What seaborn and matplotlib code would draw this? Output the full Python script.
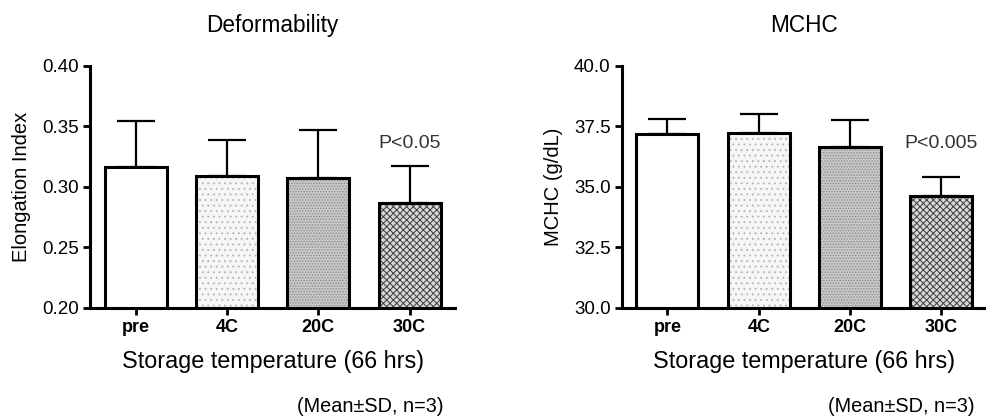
import matplotlib
matplotlib.use("Agg")
import matplotlib.pyplot as plt
import seaborn as sns
import pandas as pd
import numpy as np

# data
groups = ["pre", "4C", "20C", "30C"]
ei_mean = [0.3165, 0.309, 0.307, 0.2863]
ei_sd = [0.038, 0.030, 0.040, 0.031]
mchc_mean = [37.17, 37.23, 36.64, 34.62]
mchc_sd = [0.63, 0.79, 1.12, 0.77]

# fill styles per bar (face colour, hatch, hatch colour)
faces = ["white", "#f6f6f6", "#c9c9c9", "#d8d8d8"]
hatches = ["", "...", "......", "xxxxx"]
hatch_cols = ["white", "#b8b8b8", "#8c8c8c", "#3c3c3c"]

sns.set_style("ticks")
plt.rcParams["font.family"] = ["Liberation Sans", "DejaVu Sans"]
plt.rcParams["hatch.linewidth"] = 0.7
plt.rcParams["text.color"] = "black"
plt.rcParams["axes.labelcolor"] = "black"
plt.rcParams["xtick.color"] = "black"
plt.rcParams["ytick.color"] = "black"


def draw_panel(ax, means, sds, ylim, yticks, fmt, ylabel, title, ptext):
    df = pd.DataFrame({"group": groups, "value": means})
    # hatched fill layer
    sns.barplot(data=df, x="group", y="value", ax=ax, errorbar=None,
                width=0.68, color="white", linewidth=0)
    for p, fc, h, hc in zip(ax.patches, faces, hatches, hatch_cols):
        p.set_facecolor(fc)
        p.set_hatch(h)
        p.set_edgecolor(hc)
        p.set_linewidth(0)
    # error bars (upper only)
    ax.errorbar(range(len(groups)), means, yerr=[np.zeros(len(sds)), sds],
                fmt="none", ecolor="black", elinewidth=1.6, capsize=13.5,
                capthick=1.6, zorder=1)
    # outline layer
    sns.barplot(data=df, x="group", y="value", ax=ax, errorbar=None,
                width=0.68, fill=False, edgecolor="black", linewidth=2.2)
    ax.set_xlim(-0.5, 3.5)
    ax.set_ylim(*ylim)
    ax.set_yticks(yticks)
    ax.set_yticklabels([fmt.format(v) for v in yticks], fontsize=13.5)
    ax.set_xticks(range(len(groups)))
    ax.set_xticklabels(groups, fontsize=13, fontweight="bold")
    ax.tick_params(axis="both", direction="out", length=5, width=2, pad=3)
    for s in ["left", "bottom"]:
        ax.spines[s].set_linewidth(2.2)
        ax.spines[s].set_color("black")
    sns.despine(ax=ax)
    ax.set_xlabel("Storage temperature (66 hrs)", fontsize=16.8, labelpad=10)
    ax.set_ylabel(ylabel, fontsize=14.5, labelpad=8)
    ax.set_title(title, fontsize=16.3, pad=24)
    ax.text(3.0, ylim[0] + (ylim[1] - ylim[0]) * 0.68, ptext, fontsize=14,
            ha="center", va="center", color="#333333")
    ax.text(0.967, -0.41, "(Mean\u00b1SD, n=3)", transform=ax.transAxes,
            fontsize=14.3, ha="right", va="center")


fig = plt.figure(figsize=(9.87, 4.17), dpi=100)
ax1 = fig.add_axes([0.0912, 0.2621, 0.370, 0.5803])
ax2 = fig.add_axes([0.630, 0.2621, 0.370, 0.5803])

draw_panel(ax1, ei_mean, ei_sd, (0.20, 0.40), [0.20, 0.25, 0.30, 0.35, 0.40],
           "{:.2f}", "Elongation Index", "Deformability", "P<0.05")
draw_panel(ax2, mchc_mean, mchc_sd, (30.0, 40.0), [30.0, 32.5, 35.0, 37.5, 40.0],
           "{:.1f}", "MCHC (g/dL)", "MCHC", "P<0.005")

fig.savefig("out.png", dpi=100)
